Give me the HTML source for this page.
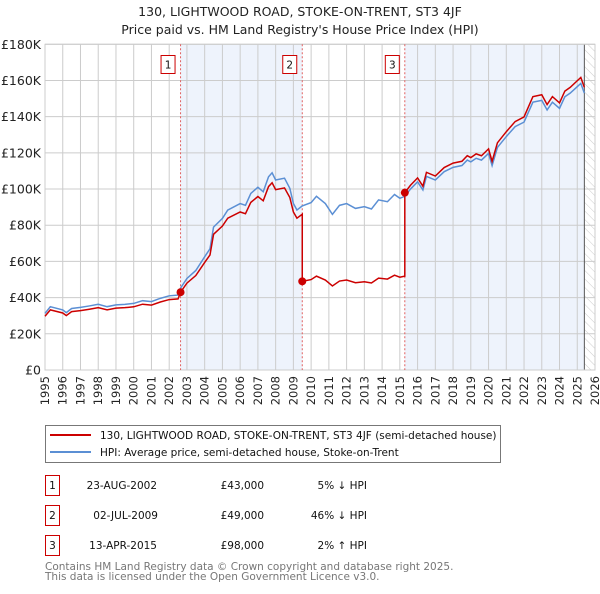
<!DOCTYPE html>
<html><head><meta charset="utf-8"><style>
body{margin:0;background:#fff;font-family:"DejaVu Sans","Liberation Sans",sans-serif;}
svg text{font-family:"DejaVu Sans","Liberation Sans",sans-serif;}
</style></head><body>
<svg id="chart" width="600" height="590" viewBox="0 0 600 590" xmlns="http://www.w3.org/2000/svg">
<defs><pattern id="hatch" width="6" height="6" patternUnits="userSpaceOnUse" patternTransform="rotate(-45)"><line x1="0" y1="0" x2="0" y2="6" stroke="#ccc" stroke-width="1"/></pattern></defs>
<text x="300" y="16" text-anchor="middle" font-size="12.5" fill="#222">130, LIGHTWOOD ROAD, STOKE-ON-TRENT, ST3 4JF</text>
<text x="300" y="34" text-anchor="middle" font-size="12.5" fill="#222">Price paid vs. HM Land Registry's House Price Index (HPI)</text>
<g id="plot"></g>
<g>
<rect x="45.5" y="425.5" width="455" height="37" fill="#fff" stroke="#777"/>
<line x1="50" y1="435" x2="91" y2="435" stroke="#cc0000" stroke-width="2"/>
<text x="100" y="439" font-size="10.5" fill="#111">130, LIGHTWOOD ROAD, STOKE-ON-TRENT, ST3 4JF (semi-detached house)</text>
<line x1="50" y1="452" x2="91" y2="452" stroke="#5b8fd4" stroke-width="2"/>
<text x="100" y="456" font-size="10.5" fill="#111">HPI: Average price, semi-detached house, Stoke-on-Trent</text>
</g>
<g font-size="10.5" fill="#111">
<rect x="45.5" y="475.5" width="14" height="20" fill="none" stroke="#cc0000"/><text x="52.5" y="489" text-anchor="middle">1</text>
<text x="157" y="489" text-anchor="end">23-AUG-2002</text><text x="264" y="489" text-anchor="end">£43,000</text><text x="367" y="489" text-anchor="end">5% ↓ HPI</text>
<rect x="45.5" y="505.5" width="14" height="20" fill="none" stroke="#cc0000"/><text x="52.5" y="519" text-anchor="middle">2</text>
<text x="158" y="519" text-anchor="end">02-JUL-2009</text><text x="264" y="519" text-anchor="end">£49,000</text><text x="367" y="519" text-anchor="end">46% ↓ HPI</text>
<rect x="45.5" y="535.5" width="14" height="20" fill="none" stroke="#cc0000"/><text x="52.5" y="549" text-anchor="middle">3</text>
<text x="157" y="549" text-anchor="end">13-APR-2015</text><text x="264" y="549" text-anchor="end">£98,000</text><text x="367" y="549" text-anchor="end">2% ↑ HPI</text>
</g>
<text x="45" y="570" font-size="10.5" fill="#777">Contains HM Land Registry data © Crown copyright and database right 2025.</text>
<text x="45" y="580" font-size="10.5" fill="#777">This data is licensed under the Open Government Licence v3.0.</text>
</svg>
<script>
const hpiYears=[1995,1995.3,1996,1996.2,1996.5,1997,1997.5,1998,1998.5,1999,1999.5,2000,2000.5,2001,2001.5,2002,2002.5,2002.64,2003,2003.5,2004,2004.3,2004.5,2005,2005.3,2006,2006.3,2006.6,2007,2007.3,2007.6,2007.8,2008,2008.5,2008.8,2009,2009.2,2009.5,2010,2010.3,2010.8,2011.2,2011.6,2012,2012.5,2013,2013.4,2013.8,2014.3,2014.7,2015,2015.28,2015.6,2016,2016.3,2016.5,2017,2017.5,2018,2018.5,2018.8,2019,2019.3,2019.6,2020,2020.2,2020.5,2021,2021.5,2022,2022.5,2023,2023.3,2023.6,2024,2024.3,2024.6,2025,2025.2,2025.4];
const hpiValues=[31300,35000,33200,31700,34000,34600,35400,36300,35000,36000,36300,36800,38300,37800,39600,41000,41400,45300,50600,55000,62600,67000,79000,83800,88400,92000,91000,97600,101000,98500,106800,109000,105000,106000,100400,92000,88400,90700,92500,96000,92000,86000,91000,92000,89300,90300,89000,94000,93000,97000,94900,96000,100000,104000,99500,107000,105000,109600,112000,113000,116000,115000,117000,116000,119700,113000,123000,129000,134500,137000,148000,149000,143700,148000,144600,151000,153000,156600,158400,153000];
const saleYears=[2002.64,2009.5,2015.28];
const salePrices=[43000,49000,98000];
const saleLabels=["1","2","3"];
const yTicks=[0,20000,40000,60000,80000,100000,120000,140000,160000,180000];
const yTickLabels=["£0","£20K","£40K","£60K","£80K","£100K","£120K","£140K","£160K","£180K"];
const xTicks=[1995,1996,1997,1998,1999,2000,2001,2002,2003,2004,2005,2006,2007,2008,2009,2010,2011,2012,2013,2014,2015,2016,2017,2018,2019,2020,2021,2022,2023,2024,2025,2026];

const X0=45,X1=595,Y0=370,Y1=44.3,xmin=1995,xmax=2026,ymax=180000,hatchStart=2025.4;
const sx=v=>X0+(v-xmin)/(xmax-xmin)*(X1-X0);
const sy=v=>Y0-v/ymax*(Y0-Y1);
const NS="http://www.w3.org/2000/svg";
const g=document.getElementById('plot');
function mk(t,a,p){const e=document.createElementNS(NS,t);for(const k in a)e.setAttribute(k,a[k]);(p||g).appendChild(e);return e;}
function hpiAt(y){for(let i=1;i<hpiYears.length;i++){if(y<=hpiYears[i]){const f=(y-hpiYears[i-1])/(hpiYears[i]-hpiYears[i-1]);return hpiValues[i-1]+f*(hpiValues[i]-hpiValues[i-1]);}}return hpiValues[hpiValues.length-1];}

let bg=mk('rect',{x:X0,y:Y1,width:X1-X0,height:Y0-Y1,fill:'#fff'});


let s1=mk('rect',{x:sx(saleYears[0]),y:Y1,width:sx(saleYears[1])-sx(saleYears[0]),height:Y0-Y1,fill:'#eef3fc'});


let s2=mk('rect',{x:sx(saleYears[2]),y:Y1,width:sx(hatchStart)-sx(saleYears[2]),height:Y0-Y1,fill:'#eef3fc'});


let ht=mk('rect',{x:sx(hatchStart),y:Y1,width:X1-sx(hatchStart),height:Y0-Y1,fill:'url(#hatch)'});


xTicks.forEach(t=>{let l=mk('line',{x1:sx(t),x2:sx(t),y1:Y1,y2:Y0,stroke:'#ccc','stroke-width':1});


let tx=mk('text',{transform:`translate(${sx(t)+4},${Y0+6}) rotate(-90)`,'text-anchor':'end','font-size':11.5,fill:'#222'});tx.textContent=t;

});
yTicks.forEach((t,i)=>{let l=mk('line',{x1:X0,x2:X1,y1:sy(t),y2:sy(t),stroke:'#ccc','stroke-width':1});


let tx=mk('text',{x:X0-4,y:sy(t)+4.5,'text-anchor':'end','font-size':12.5,fill:'#222'});tx.textContent=yTickLabels[i];

});
let hl=mk('line',{x1:sx(hatchStart),x2:sx(hatchStart),y1:Y1,y2:Y0,stroke:'#555','stroke-width':1});


let fr=mk('rect',{x:X0,y:Y1,width:X1-X0,height:Y0-Y1,fill:'none',stroke:'#ccc'});


saleYears.forEach((s,i)=>{let l=mk('line',{x1:sx(s),x2:sx(s),y1:Y1,y2:Y0,stroke:'#e06060','stroke-dasharray':'2,2','stroke-width':1});

});
// HPI line
let hp=mk('polyline',{points:hpiYears.map((y,i)=>sx(y)+','+sy(hpiValues[i])).join(' '),fill:'none',stroke:'#5b8fd4','stroke-width':1.5});


// Red price-paid line: HPI-indexed from each sale
let pts=[];
const r0=salePrices[0]/hpiAt(saleYears[0]);
hpiYears.forEach((y,i)=>{let k=0;for(let j=0;j<saleYears.length;j++)if(y>=saleYears[j])k=j;
let ratio=y<saleYears[0]?r0:salePrices[k]/hpiAt(saleYears[k]);
if(i>0)for(let j=0;j<saleYears.length;j++){if(hpiYears[i-1]<saleYears[j]&&y>=saleYears[j]){const pr=j==0?r0:salePrices[j-1]/hpiAt(saleYears[j-1]);pts.push(sx(saleYears[j])+','+sy(hpiAt(saleYears[j])*pr));pts.push(sx(saleYears[j])+','+sy(salePrices[j]));}}
pts.push(sx(y)+','+sy(hpiValues[i]*ratio));});
let rp=mk('polyline',{points:pts.join(' '),fill:'none',stroke:'#cc0000','stroke-width':1.5});


saleYears.forEach((s,i)=>{let c=mk('circle',{cx:sx(s),cy:sy(salePrices[i]),r:4,fill:'#cc0000'});


let b=mk('rect',{x:sx(s)-19.5,y:55.5,width:14,height:18,fill:'#fff',stroke:'#cc0000'});


let t=mk('text',{x:sx(s)-12.5,y:68.5,'text-anchor':'middle','font-size':10.5,fill:'#111'});t.textContent=saleLabels[i];

});
</script>
</body></html>
